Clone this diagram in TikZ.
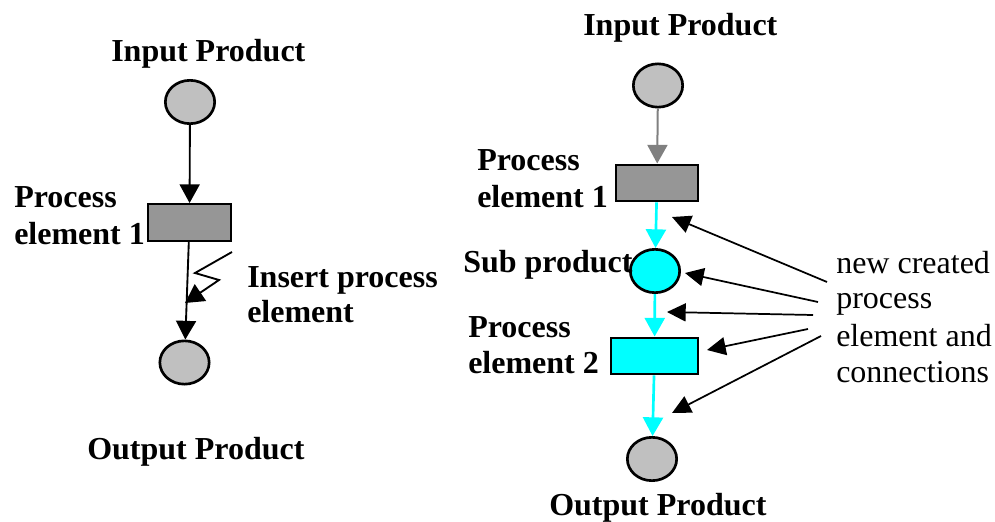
\documentclass[tikz,border=0pt]{standalone}
\usepackage{fontspec}
\setmainfont{Liberation Serif}
\usetikzlibrary{arrows.meta,shapes.geometric}

\definecolor{placefill}{RGB}{192,192,192}
\definecolor{transfill}{RGB}{150,150,150}
\definecolor{newcyan}{RGB}{0,255,255}
\definecolor{oldarc}{RGB}{128,128,128}

\tikzset{
  place/.style={ellipse, draw=black, line width=2pt, fill=placefill,
    minimum width=37pt, minimum height=32.5pt, inner sep=0pt},
  newplace/.style={place, fill=newcyan},
  trans/.style={rectangle, draw=black, line width=1.7pt, fill=transfill,
    minimum width=62pt, minimum height=27.5pt, inner sep=0pt},
  newtrans/.style={trans, fill=newcyan, minimum width=65pt},
  lbl/.style={anchor=base west, inner sep=0pt, font=\fontsize{24}{28}\selectfont\bfseries},
  note/.style={anchor=base west, inner sep=0pt, font=\fontsize{24}{28}\selectfont},
  bigtip/.style={-{Triangle[length=14pt,width=15pt]}},
  arc/.style={draw=black, line width=1.4pt, bigtip},
  greyarc/.style={draw=oldarc, line width=1.5pt, bigtip, color=oldarc},
  cyanarc/.style={draw=newcyan, line width=2pt, bigtip, color=newcyan},
  callout/.style={draw=black, line width=1.3pt, -{Triangle[length=14pt,width=13.5pt]}}
}

\begin{document}
\begin{tikzpicture}[x=0.75pt, y=-0.75pt]
  \useasboundingbox (0,0) rectangle (995,521);

  % ---------- original net ----------
  \node[place] (in1)   at (190,102)   {};
  \node[trans] (tr1)   at (189.5,222.5) {};
  \node[place] (out1)  at (184.5,362.5) {};

  \draw[arc] (in1) -- (tr1);
  \draw[arc] (tr1) -- (out1);

  % lightning-shaped insertion mark
  \coordinate (z0) at (232,252);
  \coordinate (z1) at (195,273);
  \coordinate (z2) at (219,280);
  \coordinate (z3) at (185,303);
  \draw[arc] (z0) -- (z1) -- (z2) -- (z3);

  \node[lbl] (inlbl1)  at (111,61)  {Input Product};
  \node[lbl] (pe1a)    at (14,207)  {Process};
  \node[lbl] (pe1b)    at (14,244)  {element 1};
  \node[lbl] (insa)    at (247,287) {Insert process};
  \node[lbl] (insb)    at (247,322) {element};
  \node[lbl] (outlbl1) at (87,459)  {Output Product};

  % ---------- refined net ----------
  \node[place]    (in2)  at (658,85.5) {};
  \node[trans]    (tr2a) at (657,183)  {};
  \node[newplace] (sub)  at (655,271)  {};
  \node[newtrans] (tr2b) at (654.5,356) {};
  \node[place]    (out2) at (652,459)  {};

  \draw[greyarc] (in2) -- (tr2a);
  \draw[cyanarc] (tr2a) -- (sub);
  \draw[cyanarc] (sub) -- (tr2b);
  \draw[cyanarc] (tr2b) -- (out2);

  \node[lbl] (inlbl2)  at (583,35)  {Input Product};
  \node[lbl] (pe2a)    at (477,170) {Process};
  \node[lbl] (pe2b)    at (477,207) {element 1};
  \node[lbl] (sublbl)  at (463,272) {Sub product};
  \node[lbl] (pe3a)    at (468,337) {Process};
  \node[lbl] (pe3b)    at (468,373) {element 2};
  \node[lbl] (outlbl2) at (549,515) {Output Product};

  % explanatory note
  \node[note] (n1) at (836,273) {new created};
  \node[note] (n2) at (836,308) {process};
  \node[note] (n3) at (836,346) {element and};
  \node[note] (n4) at (836,382) {connections};

  % callout arrows from the note to the new items
  \coordinate (c1) at (827,282);
  \coordinate (c2) at (818,302);
  \coordinate (c3) at (813,315);
  \coordinate (c4) at (808,329);
  \coordinate (c5) at (821,336);
  \coordinate (t1) at (672,217);
  \coordinate (t2) at (685,273);
  \coordinate (t3) at (667,312);
  \coordinate (t4) at (707,350);
  \coordinate (t5) at (672,413);
  \draw[callout] (c1) -- (t1);
  \draw[callout] (c2) -- (t2);
  \draw[callout] (c3) -- (t3);
  \draw[callout] (c4) -- (t4);
  \draw[callout] (c5) -- (t5);
\end{tikzpicture}
\end{document}
